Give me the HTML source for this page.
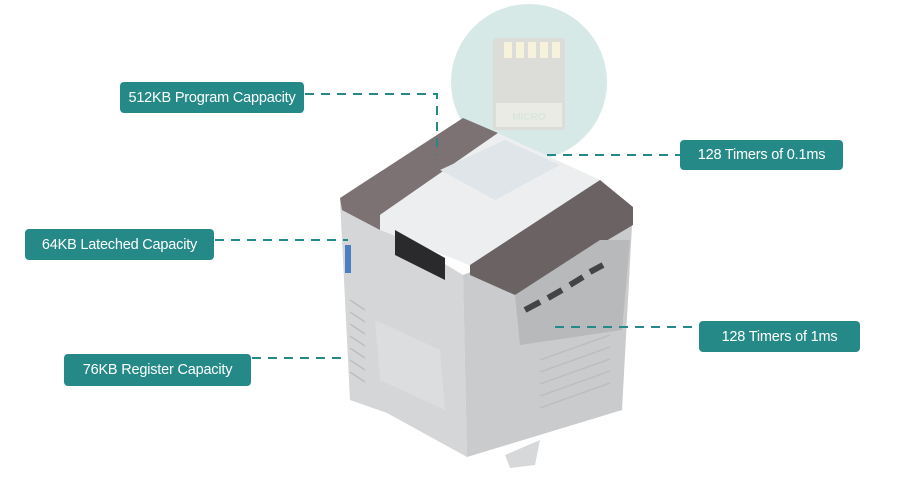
<!DOCTYPE html>
<html><head><style>
html,body{margin:0;padding:0;background:#fff;width:900px;height:500px;overflow:hidden}
.l{position:absolute;background:#258a87;color:#fff;font-family:"Liberation Sans",sans-serif;font-size:14.5px;border-radius:4px;display:flex;align-items:center;justify-content:center;white-space:nowrap;letter-spacing:-0.2px}
svg{position:absolute;left:0;top:0}
</style></head><body>
<svg width="900" height="500" viewBox="0 0 900 500">
<circle cx="529" cy="82" r="78" fill="#d6e9e6"/>
<rect x="493" y="38" width="72" height="92" rx="3" fill="#dcdcd8"/>
<rect x="504" y="42" width="8" height="16" fill="#f6f2dc"/><rect x="516" y="42" width="8" height="16" fill="#f6f2dc"/><rect x="528" y="42" width="8" height="16" fill="#f6f2dc"/><rect x="540" y="42" width="8" height="16" fill="#f6f2dc"/><rect x="552" y="42" width="8" height="16" fill="#f6f2dc"/>
<rect x="496" y="103" width="66" height="24" fill="#ebebe6"/>
<text x="529" y="120" font-family="Liberation Sans" font-size="10" font-weight="bold" fill="#d8e6dc" text-anchor="middle">MICRO</text>
<!-- device -->
<polygon points="340,200 463,275 467,457 387,413 350,400" fill="#d4d6d8"/>
<polygon points="463,275 633,207 622,410 467,457" fill="#c9cbcd"/>
<polygon points="340,198 463,118 498,133 380,215 380,230 342,210" fill="#7c7173"/>
<polygon points="380,215 498,133 600,180 475,268 462,262 380,230" fill="#eceeef"/>
<polygon points="440,170 505,140 560,165 495,200" fill="#dfe5e8"/>
<polygon points="395,230 445,258 445,280 395,255" fill="#2a2a2c"/>
<polygon points="470,265 600,180 633,207 633,225 515,295 470,275" fill="#6b6264"/>
<polygon points="515,295 600,240 630,240 622,330 520,345" fill="#b7b9bb"/>
<g stroke="#444" stroke-width="6">
<line x1="525" y1="310" x2="540" y2="302"/><line x1="548" y1="298" x2="562" y2="290"/><line x1="570" y1="285" x2="583" y2="277"/><line x1="590" y1="272" x2="603" y2="265"/>
</g>
<g stroke="#bcbfc2" stroke-width="1.5">
<line x1="350" y1="300" x2="365" y2="310"/><line x1="350" y1="312" x2="365" y2="322"/><line x1="350" y1="324" x2="365" y2="334"/><line x1="350" y1="336" x2="365" y2="346"/><line x1="350" y1="348" x2="365" y2="358"/><line x1="350" y1="360" x2="365" y2="370"/><line x1="350" y1="372" x2="365" y2="382"/>
<line x1="540" y1="360" x2="610" y2="335"/><line x1="540" y1="372" x2="610" y2="347"/><line x1="540" y1="384" x2="610" y2="359"/><line x1="540" y1="396" x2="610" y2="371"/><line x1="540" y1="408" x2="610" y2="383"/>
</g>
<polygon points="375,320 440,350 445,410 380,380" fill="#dcdddf"/>
<rect x="345" y="245" width="6" height="28" fill="#4a7fc0"/>
<polygon points="505,455 540,440 535,465 510,468" fill="#d6d8da"/>
<!-- connectors -->
<g stroke="#258a87" stroke-width="2" stroke-dasharray="9,7" fill="none">
<polyline points="305,94 437,94 437,155"/>
<line x1="215" y1="240" x2="348" y2="240"/>
<line x1="252" y1="358" x2="348" y2="358"/>
<line x1="547" y1="155" x2="680" y2="155"/>
<line x1="555" y1="327" x2="699" y2="327"/>
</g>
</svg>
<div class="l" style="left:120px;top:82px;width:184px;height:31px">512KB Program Cappacity</div>
<div class="l" style="left:25px;top:229px;width:189px;height:31px">64KB Lateched Capacity</div>
<div class="l" style="left:64px;top:354px;width:187px;height:32px">76KB Register Capacity</div>
<div class="l" style="left:680px;top:140px;width:163px;height:30px">128 Timers of 0.1ms</div>
<div class="l" style="left:699px;top:321px;width:161px;height:31px">128 Timers of 1ms</div>
</body></html>
